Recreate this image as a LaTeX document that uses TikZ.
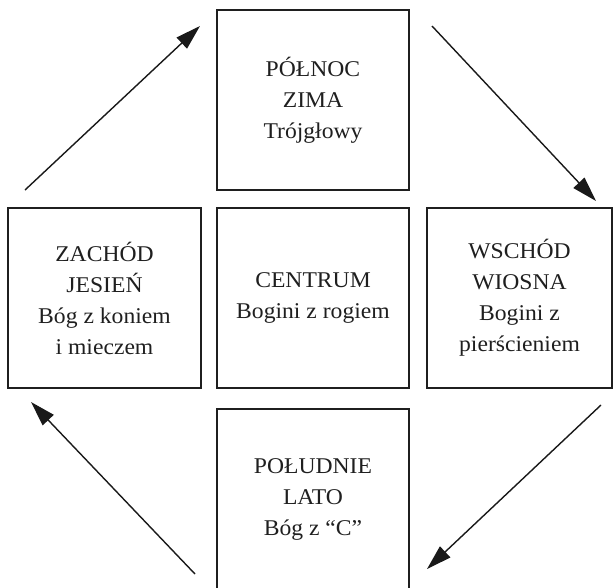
\documentclass[tikz,border=0pt]{standalone}
\usepackage{fontspec}
\setmainfont{Liberation Serif}[FakeStretch=1.05]
\usetikzlibrary{arrows.meta}
\begin{document}
\begin{tikzpicture}[x=1pt,y=-1pt,
  box/.style={draw=black!88, line width=1.7pt, inner sep=0pt, outer sep=0pt,
    align=center, text=black!88, font=\fontsize{22.5}{31}\selectfont},
  flow/.style={draw=black!90, line width=1.4pt,
    -{Triangle[length=25pt,width=15pt]}}]
\path[use as bounding box] (0,0) rectangle (615,587);
\begin{scope}
\clip (0,0) rectangle (615,587);
\node[box, minimum width=192pt, minimum height=180pt] (n) at (313,100) {PÓŁNOC\\ZIMA\\Trójgłowy};
\node[box, minimum width=193pt, minimum height=180pt] (w) at (104.5,298) {ZACHÓD\\JESIEŃ\\Bóg z koniem\\i mieczem};
\node[box, minimum width=192pt, minimum height=180pt] (c) at (313,298) {CENTRUM\\Bogini z rogiem};
\node[box, minimum width=185pt, minimum height=180pt] (e) at (519.5,298) {WSCHÓD\\WIOSNA\\Bogini z\\pierścieniem};
\node[box, minimum width=192pt, minimum height=180pt] (s) at (313,499) {POŁUDNIE\\LATO\\Bóg z “C”};
\end{scope}
\coordinate (tla) at (25,190);
\coordinate (tlb) at (200,26);
\coordinate (tra) at (432,26);
\coordinate (trb) at (596,201);
\coordinate (bra) at (601,405);
\coordinate (brb) at (427,569);
\coordinate (bla) at (195,574);
\coordinate (blb) at (31,402);
\draw[flow] (tla) -- (tlb);
\draw[flow] (tra) -- (trb);
\draw[flow] (bra) -- (brb);
\draw[flow] (bla) -- (blb);
\end{tikzpicture}
\end{document}
